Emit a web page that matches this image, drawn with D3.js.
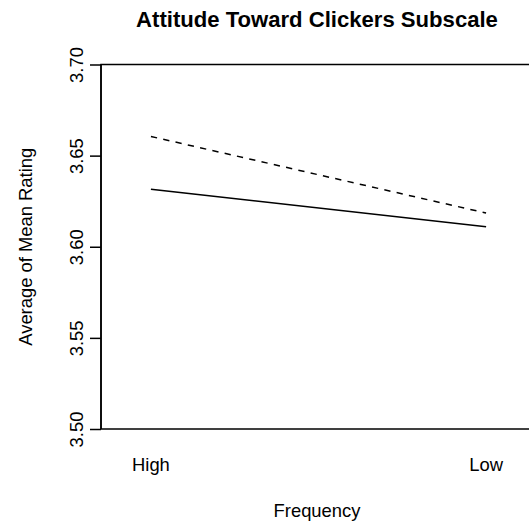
<!DOCTYPE html>
<html>
<head>
<meta charset="utf-8">
<script src="https://cdn.jsdelivr.net/npm/d3@7"></script>
<style>
  html, body { margin: 0; padding: 0; background: #fff; }
  svg { display: block; font-family: "Liberation Sans", Arial, Helvetica, sans-serif; }
</style>
</head>
<body>
<script>
// Levels of the x factor and the mean rating per group (two trace lines)
const frequencyLevels = ["High", "Low"];
const groupSolid = [3.6315, 3.611];
const groupDashed = [3.6605, 3.6185];
const yTicks = [3.50, 3.55, 3.60, 3.65, 3.70];

const W = 529, H = 521;
const plot = { left: 101, right: 533, top: 64.5, bottom: 429 };

const svg = d3.select("body").append("svg")
  .attr("width", W).attr("height", H);
svg.append("rect").attr("width", W).attr("height", H).attr("fill", "#fff");

const x = d3.scaleLinear().domain([0.851, 2.14]).range([plot.left, plot.right]);
const y = d3.scaleLinear().domain([3.5, 3.7]).range([plot.bottom, plot.top]);

// Box around the plotting region
svg.append("rect")
  .attr("x", plot.left).attr("y", plot.top)
  .attr("width", plot.right - plot.left).attr("height", plot.bottom - plot.top)
  .attr("fill", "none").attr("stroke", "#000").attr("stroke-width", 1.5);

// Left axis with rotated tick labels
const yAxis = svg.append("g")
  .attr("transform", `translate(${plot.left},0)`)
  .call(d3.axisLeft(y).tickValues(yTicks).tickFormat(d3.format(".2f")).tickSize(11).tickPadding(0));
yAxis.select(".domain").attr("stroke-width", 1.5).attr("d", `M0,${y(3.5)}V${y(3.7)}`);
yAxis.selectAll(".tick line").attr("stroke-width", 1.5);
yAxis.selectAll(".tick text")
  .attr("x", null).attr("dy", null)
  .attr("text-anchor", "middle")
  .attr("transform", "translate(-18.5,0) rotate(-90)")
  .attr("font-size", 18.4)
  .attr("font-family", "Liberation Sans, Arial, sans-serif")
  .attr("fill", "#000");

// Category labels under the plot
svg.append("g").selectAll("text")
  .data(frequencyLevels)
  .join("text")
  .attr("x", (d, i) => x(i + 1))
  .attr("y", 471)
  .attr("text-anchor", "middle")
  .attr("font-size", 18.4)
  .text(d => d);

// Trace lines
const line = d3.line().x((d, i) => x(i + 1)).y(d => y(d));
svg.append("path")
  .datum(groupDashed)
  .attr("d", line)
  .attr("fill", "none").attr("stroke", "#000").attr("stroke-width", 1.5)
  .attr("stroke-dasharray", "6.3,6.3");
svg.append("path")
  .datum(groupSolid)
  .attr("d", line)
  .attr("fill", "none").attr("stroke", "#000").attr("stroke-width", 1.5);

// Titles
svg.append("text")
  .attr("x", (plot.left + plot.right) / 2).attr("y", 26.5)
  .attr("text-anchor", "middle")
  .attr("font-size", 22.1).attr("font-weight", "bold")
  .text("Attitude Toward Clickers Subscale");

svg.append("text")
  .attr("x", (plot.left + plot.right) / 2).attr("y", 517)
  .attr("text-anchor", "middle")
  .attr("font-size", 18.4)
  .text("Frequency");

svg.append("text")
  .attr("transform", `translate(32,${(plot.top + plot.bottom) / 2}) rotate(-90)`)
  .attr("text-anchor", "middle")
  .attr("font-size", 18.4)
  .text("Average of Mean Rating");
</script>
</body>
</html>
